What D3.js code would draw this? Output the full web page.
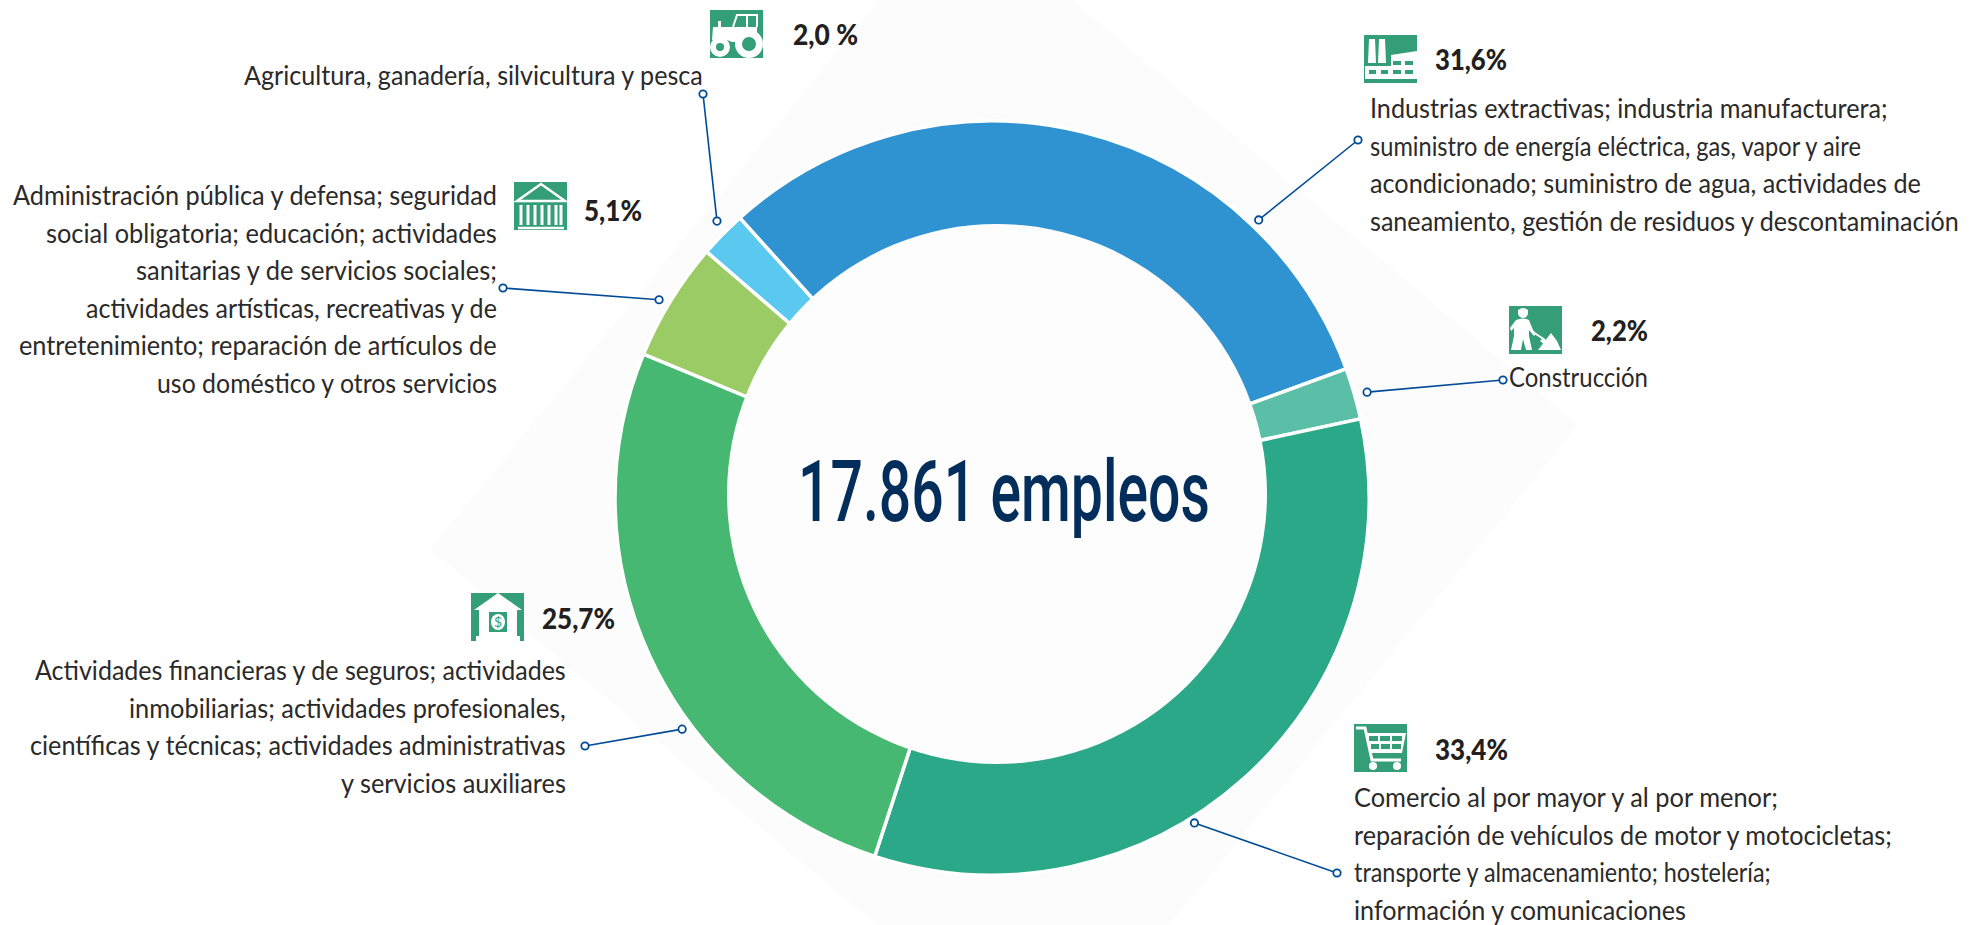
<!DOCTYPE html>
<html>
<head>
<meta charset="utf-8">
<style>
  html, body { margin: 0; background: #fff; overflow: hidden; }
  .label { font-family: Lato, sans-serif; font-size: 27.5px; fill: #2b2a29; }
  .pct { font-family: Lato, sans-serif; font-size: 28px; font-weight: 900; fill: #231f20; }
  .title { font-family: Roboto, sans-serif; font-size: 86px; font-weight: 500; fill: #032d5a; }
</style>
<script src="https://cdn.jsdelivr.net/npm/d3@7"></script>
</head>
<body>
<div id="chart"></div>
<script>
const categories = ['industria', 'construccion', 'comercio', 'finanzas', 'publica', 'agricultura'];
// arc sizes as measured on the ring, blue and dark green differ a bit from their printed labels
const shares = [31.1, 2.2, 33.4, 26.2, 5.1, 2.0];
const pctLabels = ['31,6%', '2,2%', '33,4%', '25,7%', '5,1%', '2,0 %'];
const colors = ['#2f93d1', '#5abfa6', '#2ba888', '#47b871', '#9acb65', '#5bc9ef'];
const totalLabel = '17.861 empleos';

const labelLines = [
  ['Industrias extractivas; industria manufacturera;',
   'suministro de energía eléctrica, gas, vapor y aire',
   'acondicionado; suministro de agua, actividades de',
   'saneamiento, gestión de residuos y descontaminación'],
  ['Construcción'],
  ['Comercio al por mayor y al por menor;',
   'reparación de vehículos de motor y motocicletas;',
   'transporte y almacenamiento; hostelería;',
   'información y comunicaciones'],
  ['Actividades financieras y de seguros; actividades',
   'inmobiliarias; actividades profesionales,',
   'científicas y técnicas; actividades administrativas',
   'y servicios auxiliares'],
  ['Administración pública y defensa; seguridad',
   'social obligatoria; educación; actividades',
   'sanitarias y de servicios sociales;',
   'actividades artísticas, recreativas y de',
   'entretenimiento; reparación de artículos de',
   'uso doméstico y otros servicios'],
  ['Agricultura, ganadería, silvicultura y pesca']
];

// annotation layout, pixels on the page
const width = 1982, height = 925;
const cx = 992, cy = 498, outerR = 377;
const holeX = 997, holeY = 494, holeR = 270; // the hole is a little off centre
const startDeg = -42;
const lineGap = 37.6;

const layout = {
  industria:    { x0: 1370, base: 118, widths: [518, 491, 551, 589], icon: [1364, 35], pct: [1435, 70, 72],  leadAngle: 43.7,  leadR: 386, leadEnd: [1358, 140] },
  construccion: { x0: 1509, base: 387, widths: [139], icon: [1509, 306], pct: [1591, 341, 57], leadAngle: 74.1, leadR: 390, leadEnd: [1503, 380] },
  comercio:     { x0: 1354, base: 807, widths: [424, 538, 417, 332], icon: [1354, 724], pct: [1435, 760, 73], leadAngle: 148, leadR: 382, leadEnd: [1337, 873] },
  finanzas:     { x1: 566,  base: 680, widths: [531, 437, 536, 225], icon: [471, 593], pct: [542, 629, 73], leadAngle: -126.6, leadR: 386, leadEnd: [585, 746] },
  publica:      { x1: 497,  base: 205, widths: [484, 451, 361, 411, 478, 340], icon: [514, 182], pct: [584, 221, 58], leadAngle: -59.1, leadR: 388, leadEnd: [503, 288] },
  agricultura:  { x1: 703,  base: 85,  widths: [459], icon: [710, 10], pct: [793, 45, 65], leadAngle: -44.7, leadR: 391, leadEnd: [703, 94] }
};

const svg = d3.select('#chart').append('svg')
  .attr('width', width)
  .attr('height', height)
  .style('display', 'block');

// squeeze a text to the width it has in the reference
function fitText(sel, x, y, w) {
  sel.attr('transform', function(d, j) {
    const natural = this.getComputedTextLength();
    return `translate(${x(d, j)},${y(d, j)}) scale(${w(d, j) / natural},1)`;
  });
}

// faint diamond behind the ring
svg.append('polygon')
  .attr('points', '958,-96 1578,425 1050,1071 430,550')
  .attr('fill', '#fcfcfc');

const rad = d => d * Math.PI / 180;
const pie = d3.pie().sort(null).value(d => d)
  .startAngle(rad(startDeg)).endAngle(rad(startDeg + 360));
const arc = d3.arc().innerRadius(0).outerRadius(outerR);

const ring = svg.append('g').attr('transform', `translate(${cx},${cy})`);
ring.selectAll('path')
  .data(pie(shares))
  .enter()
  .append('path')
  .attr('d', arc)
  .attr('fill', (d, i) => colors[i])
  .attr('stroke', '#fff')
  .attr('stroke-width', 3.5);

svg.append('circle')
  .attr('cx', holeX)
  .attr('cy', holeY)
  .attr('r', holeR)
  .attr('fill', '#fdfdfd');

svg.append('text')
  .attr('class', 'title')
  .text(totalLabel)
  .call(fitText, () => 798, () => 521, () => 412);

// icons are drawn in a 53x48 box
const iconGreen = '#339e78';
const icons = {
  industria(g) {
    g.append('path').attr('fill', '#fff').attr('d',
      'M5 4h6l1 24h-8z M15 4h6l1 24h-8z M27 20L53 16V48H1V31H27z');
    g.append('path').attr('fill', iconGreen).attr('d',
      'M29 26h8v4h-8z M41 26h8v4h-8z M5 35h7v4h-7z M17 35h7v4h-7z M29 35h8v4h-8z M41 35h8v4h-8z M0 44h53v4H0z M1 28h3v3H1z');
  },
  construccion(g) {
    g.append('circle').attr('cx', 14).attr('cy', 7).attr('r', 5).attr('fill', '#fff');
    g.append('path').attr('fill', '#fff').attr('d',
      'M9 4Q14 1 19 4V6H9z M7 14Q14 11 20 14L24 24L27 28L25 30L20 24V30L23 44H17L14 33L12 44H2L5 30V22L2 25L1 22z');
    g.append('path').attr('stroke', '#fff').attr('stroke-width', 2).attr('d', 'M24 26L36 34');
    g.append('path').attr('fill', '#fff').attr('d', 'M34 32L39 36L36 39L31 35z M29 44L42 27L48 35L52 44z');
  },
  comercio(g) {
    g.append('path').attr('fill', 'none').attr('stroke', '#fff').attr('stroke-width', 3).attr('d',
      'M2 4H11L18 36H47');
    g.append('path').attr('fill', '#fff').attr('d', 'M12 9H52L48 29H16z');
    g.append('path').attr('fill', iconGreen).attr('d',
      'M15 12h9v5h-9z M26 12h10v5h-10z M38 12h10v5h-10z M17 20h8v5h-8z M27 20h9v5h-9z M38 20h9v5h-9z');
    g.append('circle').attr('cx', 19).attr('cy', 42).attr('r', 4).attr('fill', '#fff');
    g.append('circle').attr('cx', 43).attr('cy', 42).attr('r', 4).attr('fill', '#fff');
  },
  finanzas(g) {
    g.append('path').attr('fill', '#fff').attr('d',
      'M27 0L51 17H3z M8 17H46V43H49V48H5V43H8z');
    g.append('rect').attr('x', 18).attr('y', 19).attr('width', 18).attr('height', 20).attr('fill', iconGreen);
    g.append('ellipse').attr('cx', 27).attr('cy', 29).attr('rx', 7).attr('ry', 8).attr('fill', '#fff');
    g.append('text').attr('x', 27).attr('y', 34).attr('text-anchor', 'middle')
      .attr('font-family', 'Lato, sans-serif').attr('font-size', 14).attr('fill', iconGreen).text('$');
  },
  publica(g) {
    g.append('path').attr('fill', 'none').attr('stroke', '#fff').attr('stroke-width', 2.5).attr('d',
      'M3 19L27 2L51 19z');
    g.append('path').attr('stroke', '#fff').attr('stroke-width', 3).attr('d',
      'M7 23V43 M14 23V43 M21 23V43 M28 23V43 M35 23V43 M42 23V43 M47 23V43');
    g.append('path').attr('stroke', '#fff').attr('stroke-width', 2.5).attr('d', 'M4 46H50');
  },
  agricultura(g) {
    g.append('path').attr('fill', 'none').attr('stroke', '#fff').attr('stroke-width', 2).attr('d',
      'M23 17L27 5H47V17 M37 5V17');
    g.append('path').attr('fill', '#fff').attr('d',
      'M8 11h3v7h-3z M3 17H47V26L36 32H22L17 30H2z');
    g.append('circle').attr('cx', 10).attr('cy', 37).attr('r', 10).attr('fill', '#fff');
    g.append('circle').attr('cx', 10).attr('cy', 37).attr('r', 4).attr('fill', iconGreen);
    g.append('circle').attr('cx', 39).attr('cy', 34).attr('r', 14).attr('fill', '#fff');
    g.append('circle').attr('cx', 39).attr('cy', 34).attr('r', 7).attr('fill', iconGreen);
  }
};

categories.forEach((cat, i) => {
  const l = layout[cat];
  const g = svg.append('g').attr('class', 'note');

  // leader line with a small ring at each end
  const inner = d3.pointRadial(rad(l.leadAngle), l.leadR);
  const from = [cx + inner[0], cy + 1 + inner[1]];
  g.append('path')
    .attr('d', d3.line()([from, l.leadEnd]))
    .attr('stroke', '#004b97')
    .attr('stroke-width', 1.6)
    .attr('fill', 'none');
  g.selectAll('circle.end')
    .data([from, l.leadEnd])
    .enter()
    .append('circle')
    .attr('class', 'end')
    .attr('cx', d => d[0])
    .attr('cy', d => d[1])
    .attr('r', 3.7)
    .attr('fill', '#fff')
    .attr('stroke', '#004b97')
    .attr('stroke-width', 1.8);

  const icon = g.append('g').attr('transform', `translate(${l.icon[0]},${l.icon[1]})`);
  icon.append('rect').attr('width', 53).attr('height', 48).attr('fill', iconGreen);
  icons[cat](icon);

  g.append('text')
    .attr('class', 'pct')
    .text(pctLabels[i])
    .call(fitText, () => l.pct[0], () => l.pct[1], () => l.pct[2]);

  g.selectAll('text.label')
    .data(labelLines[i])
    .enter()
    .append('text')
    .attr('class', 'label')
    .text(d => d)
    .call(fitText,
      (d, j) => l.x0 !== undefined ? l.x0 : l.x1 - l.widths[j],
      (d, j) => l.base + j * lineGap,
      (d, j) => l.widths[j]);
});
</script>
</body>
</html>
